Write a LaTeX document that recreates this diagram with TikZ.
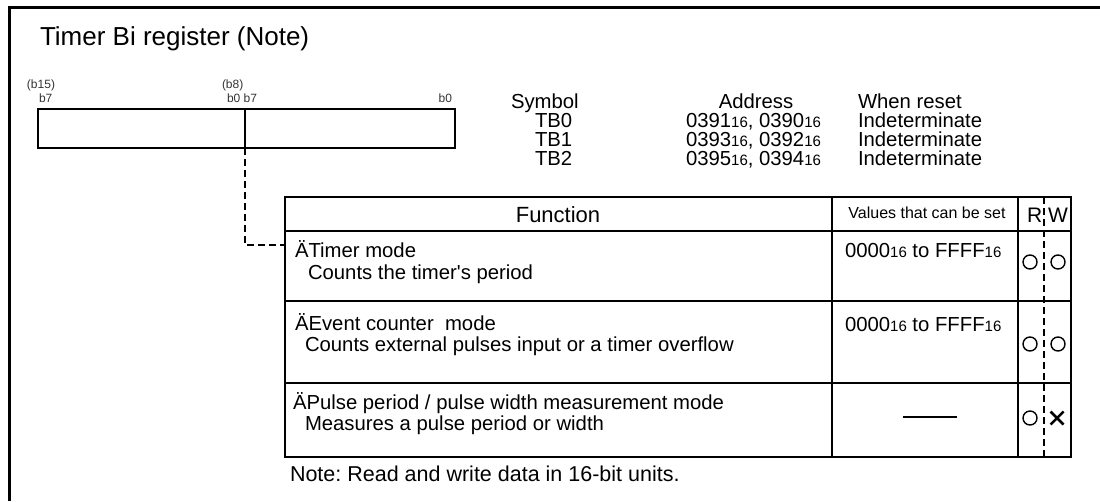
\documentclass[tikz,border=0pt]{standalone}
\usepackage{fontspec}
\setmainfont{Liberation Sans}
\usetikzlibrary{positioning}
\newcommand{\fsz}[1]{\fontsize{#1}{#1}\selectfont}
\newcommand{\hexsub}{{\fsz{15}16}}
\frenchspacing

\begin{document}
\begin{tikzpicture}[x=1pt, y=-1pt, inner sep=0pt, outer sep=0pt,
  lbl/.style={anchor=base west, font=\fsz{20.3}},
  cell/.style={anchor=base west, font=\fsz{20.3}},
  bitlbl/.style={anchor=base west, font=\fsz{12}, text=black!80},
  rwmark/.style={draw, circle, minimum size=14pt, line width=1.4pt}]
\useasboundingbox (0,0) rectangle (1100,501);

% outer frame (only top and left visible)
\draw[line width=3pt] (9,501) -- (9,7.5) -- (1100,7.5);

\node[anchor=base west, font=\fsz{26}] (title) at (40,45) {Timer Bi register (Note)};

% register
\node[draw, line width=1.5pt, minimum width=417pt, minimum height=39pt] (reg) at (246.5,128.5) {};
\coordinate (divtop) at (245,109);
\coordinate (div) at (245,148);
\draw[line width=2pt] (divtop) -- (div);
\node[bitlbl] (b15) at (27,88) {(b15)};
\node[bitlbl] (b15lo) at (39,102) {b7};
\node[bitlbl] (b8) at (222,88) {(b8)};
\node[bitlbl] (b8lo) at (227,102) {b0 b7};
\node[bitlbl, anchor=base east] (b0) at (452,102) {b0};

% symbol / address / reset
\node[lbl] (sym) at (511,108) {Symbol};
\node[lbl] (tb0) at (535,127) {TB0};
\node[lbl] (tb1) at (535,146) {TB1};
\node[lbl] (tb2) at (535,165) {TB2};
\node[lbl, anchor=base] (addr) at (756,108) {Address};
\node[lbl] (a0) at (686,127) {0391\hexsub, 0390\hexsub};
\node[lbl] (a1) at (686,146) {0393\hexsub, 0392\hexsub};
\node[lbl] (a2) at (686,165) {0395\hexsub, 0394\hexsub};
\node[lbl] (rst) at (858,108) {When reset};
\node[lbl] (r0) at (858,127) {Indeterminate};
\node[lbl] (r1) at (858,146) {Indeterminate};
\node[lbl] (r2) at (858,165) {Indeterminate};

% function table
\draw[line width=1.5pt] (285,197) rectangle (1071,457);
\draw[line width=2pt] (285,231) -- (1071,231)
  (285,301) -- (1071,301) (285,383) -- (1071,383) (285,457) -- (1071,457);
\draw[line width=2.5pt] (285,197) -- (285,457) (832,197) -- (832,457) (1018,197) -- (1018,457);
\draw[line width=1.3pt, dash pattern=on 7pt off 4pt] (1044,197) -- (1044,457);

\node[anchor=base, font=\fsz{22}] (func) at (558,222) {Function};
\node[anchor=base, font=\fsz{16}] (vals) at (927,218) {Values that can be set};
\node[anchor=base west, font=\fsz{21}] (rd) at (1027,222) {R};
\node[anchor=base west, font=\fsz{21}] (wr) at (1048,222) {W};

\node[cell] (m1) at (295,257) {ÄTimer mode};
\node[cell] (m1d) at (308,279) {Counts the timer\textquotesingle s period};
\node[cell] (v1) at (845,257) {0000\hexsub{} to FFFF\hexsub};
\node[cell] (m2) at (295,330) {ÄEvent counter\ \ mode};
\node[cell] (m2d) at (305,351) {Counts external pulses input or a timer overflow};
\node[cell] (v2) at (845,331) {0000\hexsub{} to FFFF\hexsub};
\node[cell] (m3) at (293,409) {ÄPulse period / pulse width measurement mode};
\node[cell] (m3d) at (305,430) {Measures a pulse period or width};
\node[anchor=west] (v3) at (903,417) {\rule[-0.6pt]{54pt}{1.4pt}};

\node[rwmark] (r1r) at (1030,262) {};
\node[rwmark] (r1w) at (1058,262) {};
\node[rwmark] (r2r) at (1030,344) {};
\node[rwmark] (r2w) at (1058,344) {};
\node[rwmark] (r3r) at (1030,418) {};
\node[minimum size=13pt] (r3w) at (1057,418) {};
\draw[line width=2.5pt] (r3w.north west) -- (r3w.south east) (r3w.north east) -- (r3w.south west);

\node[anchor=base west, font=\fsz{21.5}] (note) at (290,481) {Note: Read and write data in 16-bit units.};

% link from register to table
\coordinate (rowin) at (285,245);
\draw[line width=2pt, dash pattern=on 7pt off 4pt] (div) |- (rowin);
\end{tikzpicture}
\end{document}
